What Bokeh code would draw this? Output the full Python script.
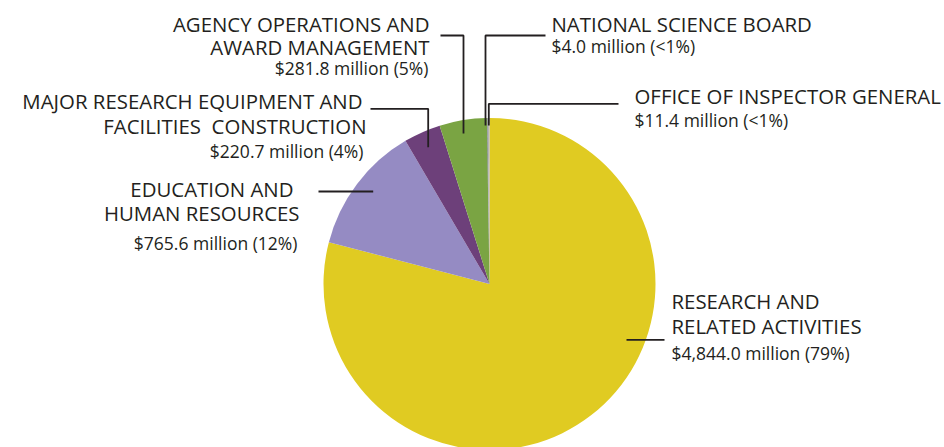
import math
from bokeh.plotting import figure
from bokeh.models import ColumnDataSource, Range1d
from bokeh.core.properties import value
from bokeh.embed import file_html
from bokeh.resources import INLINE

# ---- data (clockwise from 12 o'clock) ----
names = ["RESEARCH AND\nRELATED ACTIVITIES",
         "EDUCATION AND\nHUMAN RESOURCES",
         "MAJOR RESEARCH EQUIPMENT AND\nFACILITIES\u00a0\u00a0CONSTRUCTION",
         "AGENCY OPERATIONS AND\nAWARD MANAGEMENT",
         "NATIONAL SCIENCE BOARD",
         "OFFICE OF INSPECTOR GENERAL"]
amounts = [4844.0, 765.6, 220.7, 281.8, 4.0, 11.4]   # $ millions
colors = ["#E0CB22", "#958BC3", "#6D407A", "#7AA443", "#5E6A71", "#B4B4B4"]

# ---- layout (page pixels) ----
W, H = 944, 447
TEXT_SHIFT = 8  # compensation for the renderer's baseline placement
def X(px): return px
def Y(py): return H - py

CX, CY, R = 489, 283.5, 166

# per label: anchor x, align, baselines of title lines, baseline of value line, leader polyline
label_layout = [
    dict(x=671, align="left", title_y=[308.3, 333.3], value_y=358.3,
         leader=[(626, 339.3), (664, 339.3)]),
    dict(x=299, align="right", title_y=[196.7, 220.0], value_y=248.3,
         leader=[(318, 191), (372.7, 191)]),
    dict(x=366, align="right", title_y=[108.3, 133.3], value_y=156.7,
         leader=[(370, 108.3), (427.7, 108.3), (427.7, 146.7)]),
    dict(x=429, align="right", title_y=[31.0, 54.3], value_y=73.3,
         leader=[(440, 35), (463, 35), (463, 133)]),
    dict(x=551, align="left", title_y=[31.0], value_y=51.7,
         leader=[(485, 125), (485, 35), (545, 35)]),
    dict(x=634, align="left", title_y=[103.3], value_y=125.0,
         leader=[(488.3, 125), (488.3, 103.3), (618, 103.3)]),
]
# right-aligned lines that are offset individually
title_x_override = {(1, 0): 293, (2, 0): 362}
value_x_override = {(1,): 297, (2,): 363, (3,): 428}

total = sum(amounts)
starts, ends, cum = [], [], 0.0
for a in amounts:
    c0 = cum / total
    cum += a
    c1 = cum / total
    starts.append(math.radians(90 - 360 * c1))
    ends.append(math.radians(90 - 360 * c0))

def pct_text(a):
    p = a / total * 100
    return "<1%" if p < 1 else f"{round(p):.0f}%"

value_texts = [f"${a:,.1f} million ({pct_text(a)})" for a in amounts]

p = figure(width=W, height=H, output_backend="svg", toolbar_location=None,
           x_range=Range1d(0, W), y_range=Range1d(0, H), min_border=0)
p.axis.visible = False
p.xgrid.visible = False
p.ygrid.visible = False
p.outline_line_color = None
p.background_fill_color = "white"
p.border_fill_color = "white"

src = ColumnDataSource(dict(start=starts, end=ends, color=colors))
p.wedge(x=X(CX), y=Y(CY), radius=R, start_angle="start", end_angle="end",
        direction="anticlock", fill_color="color",
        line_color=None, source=src)

for i, (nm, lay) in enumerate(zip(names, label_layout)):
    for j, line in enumerate(nm.split("\n")):
        tx = title_x_override.get((i, j), lay["x"])
        p.text(x=[X(tx)], y=[Y(lay["title_y"][j] - TEXT_SHIFT)], text=[line],
               text_align=lay["align"], text_baseline="alphabetic",
               text_font=value("Open Sans"), text_font_size="20.4px",
               text_color="#231F20")
    vx = value_x_override.get((i,), lay["x"])
    p.text(x=[X(vx)], y=[Y(lay["value_y"] - TEXT_SHIFT + 2)], text=[value_texts[i]],
           text_align=lay["align"], text_baseline="alphabetic",
           text_font=value("Open Sans"), text_font_size="17.5px",
           text_color="#231F20")
    xs = [X(a) for a, b in lay["leader"]]
    ys = [Y(b) for a, b in lay["leader"]]
    p.line(xs, ys, line_color="#231F20", line_width=1.8)

open("out.html", "w").write(file_html(p, INLINE))
